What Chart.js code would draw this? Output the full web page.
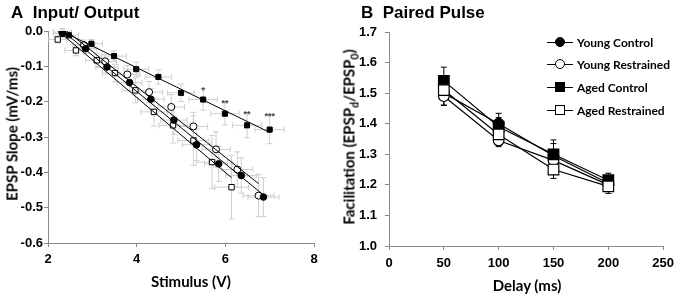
<!DOCTYPE html>
<html><head><meta charset="utf-8">
<script src="https://cdn.jsdelivr.net/npm/chart.js@4/dist/chart.umd.min.js"></script>
<style>
html,body{margin:0;padding:0;background:#fff;}
#wrap{position:relative;width:680px;height:297px;overflow:hidden;}
canvas{position:absolute;top:0;}
.ttl{position:absolute;font-family:"Liberation Sans",Arial,sans-serif;font-weight:bold;font-size:17px;color:#000;white-space:nowrap;line-height:1;}
.axt{position:absolute;font-family:Lato,sans-serif;font-weight:bold;font-size:15px;color:#000;white-space:nowrap;line-height:1;transform:translate(-50%,-50%);}
.rot{transform:translate(-50%,-50%) rotate(-90deg);}
.axt .sb{font-size:10.5px;position:relative;top:4px;}
.leg{position:absolute;left:547px;height:12px;font-family:Lato,sans-serif;font-weight:bold;font-size:12px;white-space:nowrap;}
.leg .ln{position:absolute;left:0;top:5.5px;width:26px;height:1.4px;background:#000;}
.leg .mk{position:absolute;left:8px;top:1px;width:8px;height:8px;border:1.2px solid #000;box-sizing:content-box;}
.leg .txt{position:absolute;left:30px;top:-1px;}
</style>
</head><body>
<div id="wrap">
<canvas id="cA" width="340" height="297" style="left:0;width:340px;height:297px"></canvas>
<canvas id="cB" width="340" height="297" style="left:340px;width:340px;height:297px"></canvas>
<div class="ttl" style="left:11px;top:4px">A&nbsp;&nbsp;Input/ Output</div>
<div class="ttl" style="left:361px;top:4px">B&nbsp;&nbsp;Paired Pulse</div>
<div class="axt" style="left:191px;top:281px">Stimulus (V)</div>
<div class="axt rot" style="left:12px;top:134px">EPSP Slope (mV/ms)</div>
<div class="axt" style="left:527px;top:285px">Delay (ms)</div>
<div class="axt rot" style="left:349px;top:137px">Facilitation (EPSP<span class="sb">d</span>/EPSP<span class="sb">0</span>)</div>
<div id="legend"></div>
</div>
<script>
// ---------- Panel A: Input / Output ----------
const groups = ["Young Control", "Young Restrained", "Aged Control", "Aged Restrained"];

const ycStim  = [2.33, 2.85, 3.33, 3.84, 4.32, 4.84, 5.35, 5.85, 6.36, 6.86];
const ycSlope = [-0.007, -0.050, -0.102, -0.146, -0.193, -0.252, -0.322, -0.376, -0.409, -0.470];
const ycStimErr  = [0.20, 0.25, 0.25, 0.28, 0.30, 0.30, 0.32, 0.32, 0.35, 0.35];
const ycSlopeErr = [0.010, 0.015, 0.020, 0.025, 0.030, 0.040, 0.045, 0.050, 0.050, 0.055];

const yrStim  = [2.32, 2.81, 3.29, 3.79, 4.28, 4.78, 5.28, 5.79, 6.27, 6.75];
const yrSlope = [-0.003, -0.040, -0.086, -0.123, -0.173, -0.215, -0.270, -0.335, -0.392, -0.466];
const yrStimErr  = [0.20, 0.25, 0.25, 0.28, 0.30, 0.30, 0.32, 0.32, 0.35, 0.35];
const yrSlopeErr = [0.010, 0.015, 0.020, 0.025, 0.030, 0.035, 0.040, 0.050, 0.050, 0.060];

const acStim  = [2.47, 2.98, 3.49, 3.99, 4.49, 5.00, 5.50, 5.99, 6.49, 7.00];
const acSlope = [-0.012, -0.036, -0.071, -0.108, -0.130, -0.175, -0.194, -0.234, -0.267, -0.279];
const acStimErr  = [0.22, 0.25, 0.28, 0.28, 0.30, 0.30, 0.32, 0.32, 0.33, 0.33];
const acSlopeErr = [0.010, 0.012, 0.015, 0.020, 0.020, 0.025, 0.030, 0.032, 0.035, 0.040];

const arStim  = [2.22, 2.63, 3.10, 3.51, 3.97, 4.39, 4.82, 5.28, 5.70, 6.14];
const arSlope = [-0.024, -0.055, -0.083, -0.119, -0.168, -0.229, -0.267, -0.310, -0.371, -0.442];
const arStimErr  = [0.20, 0.25, 0.25, 0.28, 0.30, 0.30, 0.32, 0.35, 0.35, 0.38];
const arSlopeErr = [0.010, 0.015, 0.020, 0.025, 0.035, 0.040, 0.050, 0.070, 0.075, 0.090];

// linear trend lines (end points)
const ycFitStim = [2.33, 6.86];  const ycFitSlope = [0.000, -0.464];
const yrFitStim = [2.32, 6.75];  const yrFitSlope = [0.010, -0.432];
const acFitStim = [2.40, 7.00];  const acFitSlope = [-0.006, -0.287];
const arFitStim = [2.22, 6.14];  const arFitSlope = [0.001, -0.415];

// significance markers on Aged Control
const sigIndex  = [6, 7, 8, 9];
const sigLabels = ["*", "**", "**", "***"];

const ioXTicks = [2, 4, 6, 8];
const ioYTicks = [0, -0.1, -0.2, -0.3, -0.4, -0.5, -0.6];

// ---------- Panel B: Paired Pulse ----------
const delays = [50, 100, 150, 200];
const ppYC = [1.500, 1.400, 1.295, 1.205];
const ppYR = [1.490, 1.345, 1.280, 1.200];
const ppAC = [1.540, 1.390, 1.300, 1.215];
const ppAR = [1.510, 1.365, 1.250, 1.195];
const ppYCErr = [0.030, 0.034, 0.040, 0.020];
const ppYRErr = [0.030, 0.020, 0.025, 0.020];
const ppACErr = [0.045, 0.030, 0.047, 0.023];
const ppARErr = [0.049, 0.035, 0.029, 0.023];

const ppXTicks = [0, 50, 100, 150, 200, 250];
const ppYTicks = [1.0, 1.1, 1.2, 1.3, 1.4, 1.5, 1.6, 1.7];

// ---------- helpers ----------
const zip = (xs, ys) => xs.map((x, i) => ({x: x, y: ys[i]}));
const AXIS = '#8a8a8a';
const tickFont = {family: '"Liberation Sans", Arial, sans-serif', size: 13, weight: 'bold'};

const errPlugin = {
  id: 'errbars',
  beforeDatasetsDraw(chart) {
    const ctx = chart.ctx, xs = chart.scales.x, ys = chart.scales.y;
    chart.data.datasets.forEach(ds => {
      if (!ds.yErr) return;
      ctx.save();
      ctx.strokeStyle = ds.errColor; ctx.lineWidth = 1;
      const cap = ds.capHalf;
      ds.data.forEach((p, i) => {
        const px = xs.getPixelForValue(p.x), py = ys.getPixelForValue(p.y);
        const dir = ds.errDir;
        ctx.beginPath();
        const yTop = ys.getPixelForValue(p.y + ds.yErr[i]);
        const yBot = ys.getPixelForValue(p.y - ds.yErr[i]);
        const y1 = dir === 'down' ? py : yTop;
        const y2 = dir === 'up' ? py : yBot;
        ctx.moveTo(px, y1); ctx.lineTo(px, y2);
        if (dir !== 'down') { ctx.moveTo(px - cap, yTop); ctx.lineTo(px + cap, yTop); }
        if (dir !== 'up') { ctx.moveTo(px - cap, yBot); ctx.lineTo(px + cap, yBot); }
        if (ds.xErr) {
          const xL = xs.getPixelForValue(p.x - ds.xErr[i]);
          const xR = xs.getPixelForValue(p.x + ds.xErr[i]);
          ctx.moveTo(xL, py); ctx.lineTo(xR, py);
          ctx.moveTo(xL, py - cap); ctx.lineTo(xL, py + cap);
          ctx.moveTo(xR, py - cap); ctx.lineTo(xR, py + cap);
        }
        ctx.stroke();
      });
      ctx.restore();
    });
  }
};

const sigPlugin = {
  id: 'sig',
  afterDatasetsDraw(chart) {
    if (!chart.options.plugins.sig || !chart.options.plugins.sig.on) return;
    const ctx = chart.ctx, xs = chart.scales.x, ys = chart.scales.y;
    ctx.save();
    ctx.fillStyle = '#444';
    ctx.font = 'bold 9px "Liberation Sans", Arial, sans-serif';
    ctx.textAlign = 'center'; ctx.textBaseline = 'alphabetic';
    sigIndex.forEach((idx, k) => {
      const px = xs.getPixelForValue(acStim[idx]);
      const py = ys.getPixelForValue(acSlope[idx] + acSlopeErr[idx]);
      ctx.fillText(sigLabels[k], px, py + 4);
    });
    ctx.restore();
  }
};

function scatterDs(label, xs, ys, xe, ye, fill, style, radius) {
  return {
    label: label, data: zip(xs, ys), showLine: false,
    pointStyle: style, pointRadius: radius, pointHoverRadius: radius,
    pointBackgroundColor: fill, pointBorderColor: '#000', pointBorderWidth: 1,
    xErr: xe, yErr: ye, errColor: '#cfcfcf', capHalf: 3, errDir: 'both'
  };
}
function fitDs(xs, ys) {
  return {data: zip(xs, ys), showLine: true, pointRadius: 0, borderColor: '#000', borderWidth: 1, fill: false};
}

function axisCommon(ticks, fmt, fitProp, fitVal, pad) {
  return {
    type: 'linear',
    min: Math.min(...ticks), max: Math.max(...ticks),
    afterBuildTicks: s => { s.ticks = ticks.map(v => ({value: v})); },
    afterFit: s => { s[fitProp] = fitVal; },
    grid: {display: true, drawOnChartArea: false, drawTicks: true, tickLength: 4, color: AXIS, lineWidth: 1},
    border: {display: true, color: AXIS, width: 1},
    ticks: {font: tickFont, color: '#000', padding: pad, callback: fmt, maxRotation: 0, autoSkip: false}
  };
}

// ---------- Chart A ----------
new Chart(document.getElementById('cA'), {
  type: 'scatter',
  data: {
    datasets: [
      fitDs(acFitStim, acFitSlope),
      fitDs(ycFitStim, ycFitSlope),
      fitDs(yrFitStim, yrFitSlope),
      fitDs(arFitStim, arFitSlope),
      scatterDs(groups[2], acStim, acSlope, acStimErr, acSlopeErr, '#000', 'rect', 3.6),
      scatterDs(groups[0], ycStim, ycSlope, ycStimErr, ycSlopeErr, '#000', 'circle', 3.3),
      scatterDs(groups[1], yrStim, yrSlope, yrStimErr, yrSlopeErr, '#fff', 'circle', 3.5),
      scatterDs(groups[3], arStim, arSlope, arStimErr, arSlopeErr, '#fff', 'rect', 3.8)
    ]
  },
  options: {
    responsive: false, animation: false, devicePixelRatio: 1,
    layout: {padding: {top: 31, right: 26, left: 0, bottom: 0}},
    plugins: {legend: {display: false}, tooltip: {enabled: false}, sig: {on: true}},
    scales: {
      x: axisCommon(ioXTicks, v => String(v), 'height', 54, 5),
      y: axisCommon(ioYTicks, v => Number(v).toFixed(1), 'width', 48, 1)
    }
  },
  plugins: [errPlugin, sigPlugin]
});

// ---------- Chart B ----------
function ppDs(label, ys, err, dir, fill, style, radius, order) {
  return {
    label: label, data: zip(delays, ys), showLine: true, borderColor: '#000', borderWidth: 1.2,
    pointStyle: style, pointRadius: radius, pointHoverRadius: radius,
    pointBackgroundColor: fill, pointBorderColor: '#000', pointBorderWidth: 1.2,
    yErr: err, errColor: '#000', capHalf: 3, errDir: dir, order: order
  };
}
new Chart(document.getElementById('cB'), {
  type: 'scatter',
  data: {
    datasets: [
      ppDs(groups[0], ppYC, ppYCErr, 'up', '#000', 'circle', 5.3, 4),
      ppDs(groups[1], ppYR, ppYRErr, 'down', '#fff', 'circle', 5.3, 3),
      ppDs(groups[2], ppAC, ppACErr, 'up', '#000', 'rect', 7.5, 2),
      ppDs(groups[3], ppAR, ppARErr, 'down', '#fff', 'rect', 7.5, 1)
    ]
  },
  options: {
    responsive: false, animation: false, devicePixelRatio: 1,
    layout: {padding: {top: 32, right: 15, left: 0, bottom: 0}},
    plugins: {legend: {display: false}, tooltip: {enabled: false}},
    scales: {
      x: axisCommon(ppXTicks, v => String(v), 'height', 51, 6),
      y: axisCommon(ppYTicks, v => Number(v).toFixed(1), 'width', 49, 8)
    }
  },
  plugins: [errPlugin]
});

// ---------- Legend (HTML) ----------
const legendTops = [36, 58, 81, 104];
const legendFill = ['#000', '#fff', '#000', '#fff'];
const legendRound = [true, true, false, false];
const lg = document.getElementById('legend');
groups.forEach((g, i) => {
  const row = document.createElement('div');
  row.className = 'leg';
  row.style.top = legendTops[i] + 'px';
  row.innerHTML = '<div class="ln"></div><div class="mk" style="background:' + legendFill[i] +
    ';border-radius:' + (legendRound[i] ? '50%' : '0') + '"></div><div class="txt">' + g + '</div>';
  lg.appendChild(row);
});
</script>
</body></html>
